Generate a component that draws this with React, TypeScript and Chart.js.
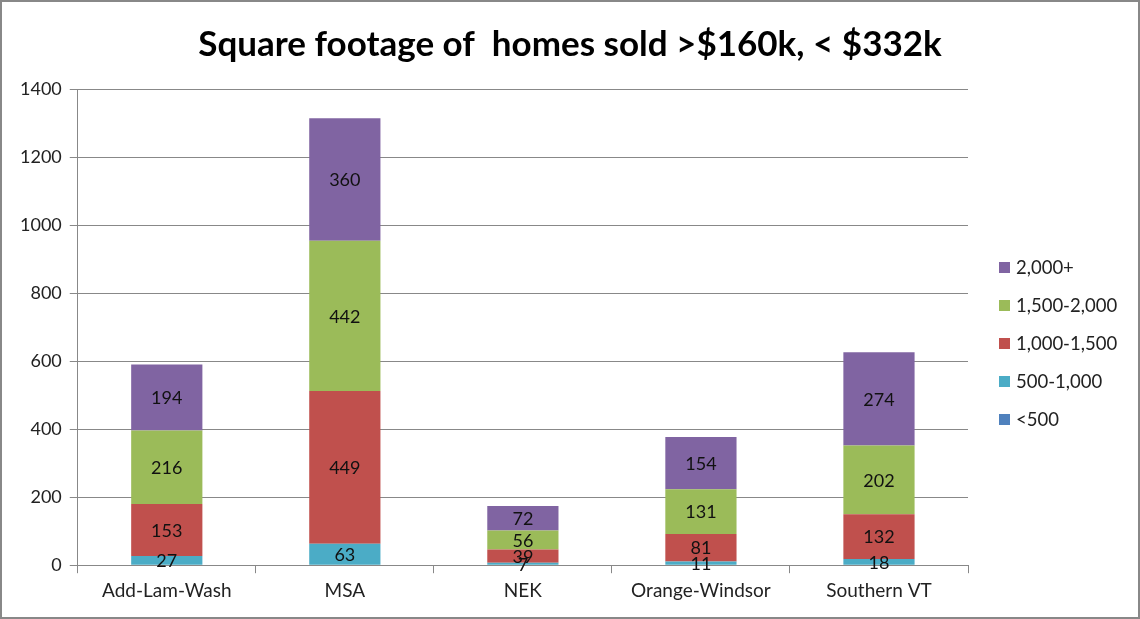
import React, { useEffect, useRef } from "react";
import { Chart, registerables } from "chart.js";

Chart.register(...registerables);

const categories = ["Add-Lam-Wash", "MSA", "NEK", "Orange-Windsor", "Southern VT"];
const seriesNames = ["<500", "500-1,000", "1,000-1,500", "1,500-2,000", "2,000+"];
const under500 = [0, 0, 0, 0, 0];
const s500to1000 = [27, 63, 7, 11, 18];
const s1000to1500 = [153, 449, 39, 81, 132];
const s1500to2000 = [216, 442, 56, 131, 202];
const s2000plus = [194, 360, 72, 154, 274];
const seriesColors = ["#4F81BD", "#4BACC6", "#C0504D", "#9BBB59", "#8064A2"];
const yTicks = [0, 200, 400, 600, 800, 1000, 1200, 1400];
const titleText = "Square footage of  homes sold >$160k, < $332k";

const FONT = "Lato, 'Open Sans', sans-serif";

const labelPlugin = {
  id: "segLabels",
  afterDatasetsDraw(chart: any) {
    const ctx = chart.ctx;
    ctx.save();
    ctx.font = `18px ${FONT}`;
    ctx.fillStyle = "#111";
    ctx.textAlign = "center";
    ctx.textBaseline = "middle";
    chart.data.datasets.forEach((ds: any, di: number) => {
      const meta = chart.getDatasetMeta(di);
      meta.data.forEach((el: any, i: number) => {
        const v = ds.data[i];
        if (!v) return;
        const y = (el.y + el.base) / 2;
        ctx.fillText(String(v), el.x, y + 1);
      });
    });
    ctx.restore();
  },
};

const legendTitlePlugin = {
  id: "sideLegendTitle",
  afterDraw(chart: any) {
    const ctx = chart.ctx;
    ctx.save();
    // title
    ctx.font = `bold 35px ${FONT}`;
    ctx.fillStyle = "#000";
    ctx.textAlign = "center";
    ctx.textBaseline = "middle";
    ctx.fillText(titleText, chart.width / 2, 43);
    // legend
    ctx.font = `18.5px ${FONT}`;
    ctx.textAlign = "left";
    const ds = chart.data.datasets.slice().reverse();
    const x0 = chart.chartArea.right + 31;
    const y0 = 265;
    ds.forEach((d: any, i: number) => {
      const y = y0 + i * 38;
      ctx.fillStyle = d.backgroundColor;
      ctx.fillRect(x0, y - 5, 11, 11);
      ctx.fillStyle = "#222";
      ctx.fillText(d.label, x0 + 17, y + 1);
    });
    ctx.restore();
  },
};

export default function App() {
  const ref = useRef<HTMLCanvasElement>(null);
  useEffect(() => {
    document.body.style.margin = "0";
    const all = [under500, s500to1000, s1000to1500, s1500to2000, s2000plus];
    const chart = new Chart(ref.current!, {
      type: "bar",
      data: {
        labels: categories,
        datasets: all.map((d, i) => ({
          label: seriesNames[i],
          data: d,
          backgroundColor: seriesColors[i],
          borderWidth: 0,
          barPercentage: 0.4,
          categoryPercentage: 1,
        })),
      },
      options: {
        animation: false,
        responsive: false,
        maintainAspectRatio: false,
        layout: { padding: { left: 10, right: 170, top: 87, bottom: 9 } },
        plugins: {
          title: { display: false },
          legend: { display: false },
          tooltip: { enabled: false },
        },
        scales: {
          x: {
            stacked: true,
            grid: { drawOnChartArea: false, color: "#888", tickLength: 8, offset: true },
            border: { color: "#888" },
            ticks: { font: { family: FONT, size: 19 }, color: "#222", padding: 6 },
          },
          y: {
            stacked: true,
            min: 0,
            max: 1400,
            afterBuildTicks: (axis: any) => {
              axis.ticks = yTicks.map((v) => ({ value: v }));
            },
            grid: { color: "#888", tickLength: 8 },
            border: { color: "#888" },
            ticks: {
              font: { family: FONT, size: 18 },
              color: "#222",
              padding: 8,
              callback: (v: any) => String(v),
            },
          },
        },
      },
      plugins: [labelPlugin, legendTitlePlugin],
    });
    return () => chart.destroy();
  }, []);
  return (
    <div
      style={{
        width: 1140,
        height: 619,
        boxSizing: "border-box",
        border: "2px solid #888",
        background: "#fff",
      }}
    >
      <canvas ref={ref} width={1136} height={615} />
    </div>
  );
}
